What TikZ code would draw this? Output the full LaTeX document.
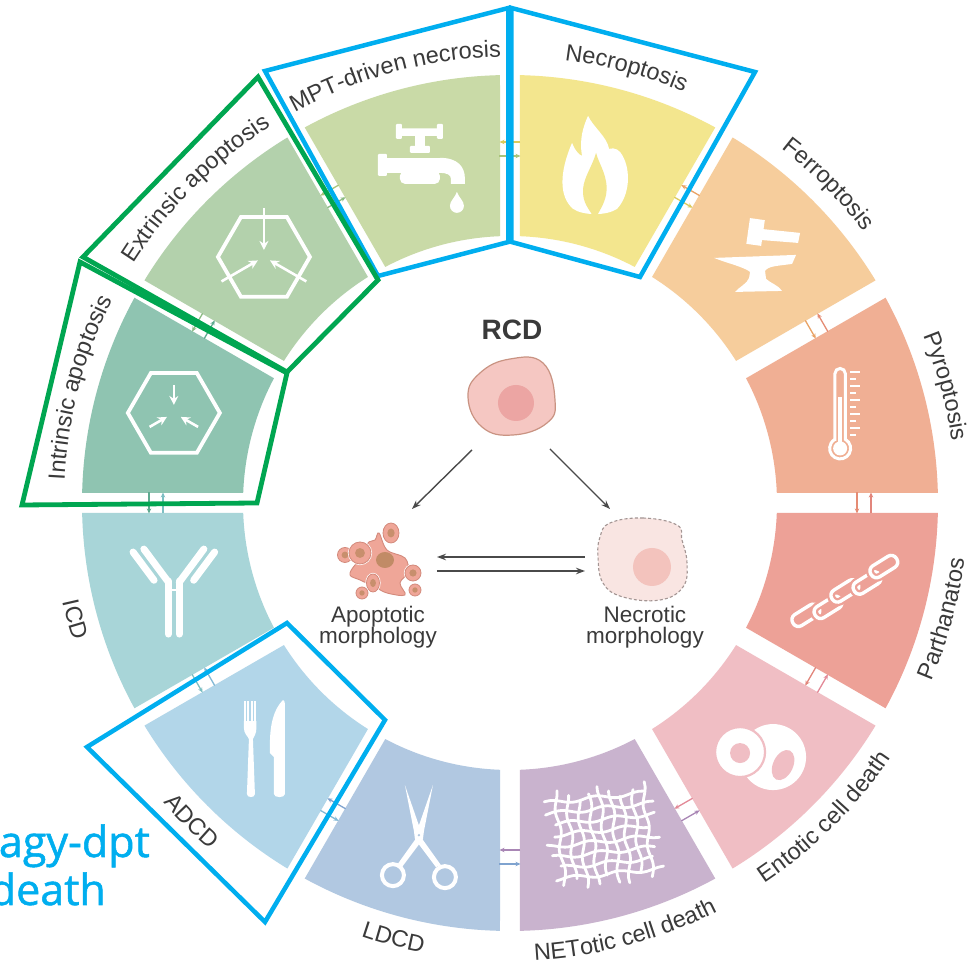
\documentclass[tikz,border=0pt]{standalone}
\usepackage{fontspec}
\setmainfont{Liberation Sans}
\newfontfamily\calloutfont{Open Sans}[FakeBold=1.2]
\usetikzlibrary{arrows.meta,decorations.text}

% sector fills
\definecolor{cNec}{HTML}{F3E68E}
\definecolor{cFer}{HTML}{F6CD9C}
\definecolor{cPyr}{HTML}{F0AF94}
\definecolor{cPar}{HTML}{EDA197}
\definecolor{cEnt}{HTML}{F0BEC4}
\definecolor{cNet}{HTML}{C9B3CE}
\definecolor{cLdc}{HTML}{B1C8E1}
\definecolor{cAdc}{HTML}{B2D6E9}
\definecolor{cIcd}{HTML}{A8D5D8}
\definecolor{cInt}{HTML}{8FC4B1}
\definecolor{cExt}{HTML}{B3D1AC}
\definecolor{cMpt}{HTML}{C9DAA7}
% deeper tones for the cross-talk arrows
\definecolor{dNec}{HTML}{DCCB5C}
\definecolor{dFer}{HTML}{E9A366}
\definecolor{dPyr}{HTML}{E58C74}
\definecolor{dPar}{HTML}{E2867C}
\definecolor{dEnt}{HTML}{E38A98}
\definecolor{dNet}{HTML}{A986B5}
\definecolor{dLdc}{HTML}{7FA3CF}
\definecolor{dAdc}{HTML}{82B9D6}
\definecolor{dIcd}{HTML}{7DBFC3}
\definecolor{dInt}{HTML}{5FAA90}
\definecolor{dExt}{HTML}{8CBB84}
\definecolor{dMpt}{HTML}{A9C47A}
% text, outlines, cells
\definecolor{labelgray}{HTML}{3A3A3A}
\definecolor{arrowgray}{HTML}{4A4A4A}
\definecolor{boxblue}{HTML}{00AEEF}
\definecolor{boxgreen}{HTML}{00A651}
\definecolor{cellpink}{HTML}{F5C7C2}
\definecolor{celledge}{HTML}{C99382}
\definecolor{nucpink}{HTML}{ECA5A3}
\definecolor{necfill}{HTML}{F9E5E2}
\definecolor{necedge}{HTML}{A39593}
\definecolor{necnuc}{HTML}{F3C3BD}
\definecolor{apofill}{HTML}{EFA698}
\definecolor{apoedge}{HTML}{D38A7C}
\definecolor{aponuc}{HTML}{C18B66}

\newcommand\labfont{\fontsize{23.5}{28}\selectfont}
% one coloured ring sector centred on angle #1 (gaps of 20 between sectors)
\newcommand\ringsector[2]{%
  \fill[#2] ({#1+13.661}:428) arc[start angle={#1+13.661}, end angle={#1-13.661}, radius=428]
    -- ({#1-12.854}:267) arc[start angle={#1-12.854}, end angle={#1+12.854}, radius=267] -- cycle;}
% curved labels: upper half reads clockwise, lower half counter-clockwise
\newcommand\ringlabelout[2]{%
  \path[decorate, decoration={text along path, text align=center, text color=labelgray,
    text={|\labfont|#2}}] ({#1+30}:446) arc[start angle={#1+30}, end angle={#1-30}, radius=446];}
\newcommand\ringlabelin[2]{%
  \path[decorate, decoration={text along path, text align=center, text color=labelgray,
    text={|\labfont|#2}}] ({#1-30}:458) arc[start angle={#1-30}, end angle={#1+30}, radius=458];}

\begin{document}
\begin{tikzpicture}[x=1pt,y=1pt,
  garrow/.style={line width=1.3,-{Stealth[length=5,width=4.4]}},
  cellarrow/.style={draw=arrowgray,line width=1.4,-{Stealth[length=9,width=6.5]}},
  bluebox/.style={draw=boxblue,line width=4.5,line join=miter},
  greenbox/.style={draw=boxgreen,line width=4.8,line join=miter},
  netline/.style={draw=white,line width=2.8,line cap=round},
  hexline/.style={draw=white,line width=3.8,line join=miter},
  hexarrow/.style={draw=white,line width=2.6,-{Stealth[length=9,width=9]}},
]
\useasboundingbox (-510,-462) rectangle (468,503);
\fill[white] (-510,-462) rectangle (468,503);

% ---------- ring of twelve sectors ----------
\foreach \ang/\col in {75/cNec,45/cFer,15/cPyr,-15/cPar,-45/cEnt,-75/cNet,-105/cLdc,-135/cAdc,-165/cIcd,165/cInt,135/cExt,105/cMpt}
  {\ringsector{\ang}{\col}}

% ---------- paired arrows across each gap ----------
\foreach \bd/\cw/\ccw in {90/dMpt/dNec,60/dNec/dFer,30/dFer/dPyr,0/dPyr/dPar,-30/dPar/dEnt,-60/dEnt/dNet,-90/dNet/dLdc,-120/dLdc/dAdc,-150/dAdc/dIcd,180/dIcd/dInt,150/dInt/dExt,120/dExt/dMpt}{
  \begin{scope}[rotate=\bd]
    \draw[garrow,draw=\cw] (347,10.5) -- (347,-10.5);
    \draw[garrow,draw=\ccw] (361,-10.5) -- (361,10.5);
  \end{scope}}

% ---------- icons ----------
% MPT-driven necrosis: tap
\begin{scope}[shift={(105:348)}]
  \fill[white, rounded corners=1.5] (-23,31) rectangle (22,38.5);
  \fill[white, rounded corners=1] (-24,28) rectangle (-18,43);
  \fill[white, rounded corners=1] (17,28) rectangle (23,43);
  \fill[white] (-5,31) rectangle (5,18);
  \fill[white, rounded corners=1] (-10,21) rectangle (10,14);
  \fill[white, rounded corners=1] (-42,13) rectangle (-33,-9);
  \fill[white] (-34,9) rectangle (22,-6);
  \fill[white] (20,9) .. controls (38,9) and (45,0) .. (45,-12) -- (45,-17) -- (31,-17) -- (31,-12)
     .. controls (31,-8) and (27,-6) .. (20,-6) -- cycle;
  \fill[white, rounded corners=5] (-20,-4) rectangle (20,-17);
  \fill[white] (37,-25) .. controls (39,-31) and (44,-34) .. (44,-39) arc[start angle=0,end angle=-180,radius=7]
     .. controls (30,-34) and (35,-31) .. (37,-25) -- cycle;
\end{scope}

% Necroptosis: flame
\begin{scope}[shift={(75:348)}, shift={(-5,2)}]
  \fill[white] (-7,49) .. controls (-2,38) and (12,28) .. (14,16)
    .. controls (20,18) and (25,14) .. (27,10)
    .. controls (36,-5) and (35,-30) .. (22,-44)
    .. controls (12,-51) and (-12,-51) .. (-22,-44)
    .. controls (-36,-32) and (-36,-8) .. (-23,22)
    .. controls (-20,14) and (-16,10) .. (-13,9)
    .. controls (-16,25) and (-12,38) .. (-7,49) -- cycle;
  \fill[cNec] (1,12) .. controls (4,0) and (14,-12) .. (11,-30)
    .. controls (9,-40) and (4,-46) .. (1,-53) -- (-1,-53)
    .. controls (-6,-44) and (-13,-38) .. (-12,-24)
    .. controls (-11,-12) and (-3,-2) .. (1,12) -- cycle;
\end{scope}

% Ferroptosis: hammer and anvil
\begin{scope}[shift={(45:348)}]
  \fill[white, rotate around={-8:(-1,25)}] (-8,12) rectangle (7,38);
  \fill[white] (5,28) -- (44,24) -- (42,14) -- (4,17) -- cycle;
  \fill[white] (-42,-1) -- (40,2) -- (36,-7) .. controls (22,-9) and (12,-9) .. (9,-14) -- (10,-22)
    .. controls (14,-26) and (22,-28) .. (26,-34) -- (-21,-35) .. controls (-17,-30) and (-9,-27) .. (-7,-21)
    -- (-6,-15) .. controls (-12,-10) and (-30,-6) .. (-42,-1) -- cycle;
\end{scope}

% Pyroptosis: thermometer
\begin{scope}[shift={(15:348)}]
  \draw[white, line width=3] (-11.2,-26.4) -- (-11.2,39.3) arc[start angle=180,end angle=0,radius=5.2]
    -- (-0.8,-26.4) arc[start angle=60.3,end angle=-240.3,radius=10.5] -- cycle;
  \draw[white, line width=4] (-6,16) -- (-6,-30);
  \fill[white] (-6,-35.5) circle[radius=7];
  \foreach \kk in {0,...,9}{
    \pgfmathsetmacro\ty{41-7*\kk}
    \pgfmathsetmacro\tx{ifthenelse(mod(\kk,2)==0,14,10)}
    \draw[white, line width=2] (4,\ty) -- (\tx,\ty);}
\end{scope}

% Parthanatos: chain
\begin{scope}[shift={(345:348)}, rotate=32]
  \foreach \kk in {0,...,4}{
    \pgfmathsetmacro\cx{-46+23*\kk}
    \pgfmathsetmacro\cy{ifthenelse(mod(\kk,2)==0,2.5,-2.5)}
    \draw[cPar, line width=8, rounded corners=6] (\cx-15,\cy-6.5) rectangle (\cx+15,\cy+6.5);
    \draw[white, line width=3.4, rounded corners=6] (\cx-15,\cy-6.5) rectangle (\cx+15,\cy+6.5);}
\end{scope}

% Entotic cell death: cell inside a cell
\begin{scope}[shift={(315:348)}]
  \fill[white] (17,-8) circle[radius=33];
  \draw[cEnt, line width=2.2, fill=white] (-16,-3) circle[radius=25];
  \fill[cEnt] (-16,-4) circle[radius=10];
  \fill[cEnt, rotate around={-25:(27,-16)}] (27,-16) ellipse[x radius=10, y radius=16];
\end{scope}

% NETotic cell death: net
\begin{scope}[shift={(285:348)}, shift={(4,3)}, rotate=6]
  \foreach \ii in {0,...,7}{
    \pgfmathsetmacro\yy{-38+11*\ii}
    \pgfmathsetmacro\xa{-52+6*sin(97*\ii)}
    \pgfmathsetmacro\xb{50+6*cos(131*\ii)}
    \draw[netline] plot[variable=\pv, domain=\xa:\xb, samples=20, smooth] (\pv,{\yy+2*sin(8*\pv+70*\ii)});}
  \foreach \ii in {0,...,8}{
    \pgfmathsetmacro\xx{-44+11*\ii}
    \pgfmathsetmacro\ya{-45+6*sin(113*\ii)}
    \pgfmathsetmacro\yb{44+6*cos(89*\ii)}
    \draw[netline] plot[variable=\pv, domain=\ya:\yb, samples=20, smooth] ({\xx+2*sin(9*\pv+50*\ii)},\pv);}
\end{scope}

% LDCD: scissors
\begin{scope}[shift={(255:348)}]
  \fill[white] (13,54) -- (-3,8) -- (-3,2) -- (-23,-26) -- (-18,-28) -- (3,0) -- (4,8) -- cycle;
  \fill[white] (-15,54) -- (1,8) -- (1,2) -- (21,-26) -- (16,-28) -- (-5,0) -- (-6,8) -- cycle;
  \draw[white, line width=4] (-27,-36) circle[radius=11] (25,-38) circle[radius=11];
  \fill[cLdc] (-1,4) circle[radius=1.3];
\end{scope}

% ADCD: fork and knife
\begin{scope}[shift={(225:348)}]
  \foreach \tn in {-19,-15.5,-12,-8.5}{\fill[white] (\tn-1,27) rectangle (\tn+1,48);}
  \fill[white] (-20,28) -- (-7.5,28) -- (-7.5,21) .. controls (-7.5,15) and (-10,13) .. (-11,10)
    -- (-9,-45) .. controls (-9,-49) and (-17,-49) .. (-17,-45) -- (-15,10)
    .. controls (-16,13) and (-20,15) .. (-20,21) -- cycle;
  \fill[white] (19,49) .. controls (10,40) and (6,25) .. (6,5) -- (6,-4) -- (10,-8) -- (10,-45)
    .. controls (10,-49) and (21,-49) .. (21,-45) -- (21,45) .. controls (21,48) and (20,49) .. (19,49) -- cycle;
\end{scope}

% ICD: antibody
\begin{scope}[shift={(195:348)}, shift={(0,3)}, line cap=round]
  \draw[white, line width=7] (-5.5,9) -- (-5.5,-44) (5.5,9) -- (5.5,-44);
  \draw[white, line width=7] (-5.5,8) -- (-30,41) (5.5,8) -- (30,41);
  \draw[white, line width=7] (-19.8,9.8) -- (-40.8,38) (19.8,9.8) -- (40.8,38);
  \draw[white, line width=2.5, line cap=butt] (-3,0) -- (3,0);
\end{scope}

% Intrinsic apoptosis: hexagon with arrows from inside
\begin{scope}[shift={(165:348)}]
  \draw[hexline] (0:46) -- (60:46) -- (120:46) -- (180:46) -- (240:46) -- (300:46) -- cycle;
  \foreach \ang in {90,210,330}{\draw[hexarrow] (\ang:28) -- (\ang:8);}
\end{scope}

% Extrinsic apoptosis: hexagon with arrows from outside
\begin{scope}[shift={(135:348)}]
  \draw[hexline] (0:46) -- (60:46) -- (120:46) -- (180:46) -- (240:46) -- (300:46) -- cycle;
  \foreach \ang in {90,210,330}{\draw[hexarrow] (\ang:49) -- (\ang:7);}
\end{scope}

% ---------- sector labels ----------
\ringlabelout{75}{Necroptosis}
\ringlabelout{45}{Ferroptosis}
\ringlabelout{15}{Pyroptosis}
\ringlabelout{105}{MPT-driven necrosis}
\ringlabelout{135}{Extrinsic apoptosis}
\ringlabelout{165}{Intrinsic apoptosis}
\ringlabelin{-15}{Parthanatos}
\ringlabelin{-45}{Entotic cell death}
\ringlabelin{-75}{NETotic cell death}
\ringlabelin{-105}{LDCD}
\ringlabelin{-135}{ADCD}
\ringlabelin{-165}{ICD}

% ---------- centre: RCD and the two morphologies ----------
\node[font=\bfseries\fontsize{28}{32}\selectfont, text=labelgray] (rcd) at (2,173) {RCD};

\draw[fill=cellpink, draw=celledge, line width=1.2] plot[smooth cycle, tension=0.75]
  coordinates {(-30,130) (0,144) (33,140) (45,103) (37,80) (3,68) (-28,76) (-42,106)};
\fill[nucpink] (6,100) circle[radius=18];

% apoptotic cell with blebs
\draw[fill=apofill, draw=apoedge, line width=0.9] plot[smooth cycle, tension=0.6]
  coordinates {(-131,-30) (-123,-47) (-105,-55) (-102,-69) (-110,-80) (-105,-92) (-123,-90) (-135,-84)
               (-150,-77) (-160,-72) (-155,-62) (-143,-52) (-142,-40) (-135,-37)};
\fill[aponuc] (-125,-57) ellipse[x radius=9, y radius=8];
\foreach \px/\py/\rx/\ry in {-119/-30/8/10, -165/-52/7.5/7.5, -150/-50/11/11, -97/-70/8/8, -95/-87/6/6, -137/-80/6.5/9, -148/-90/6/6}{
  \draw[white, line width=2.2] (\px,\py) ellipse[x radius=\rx, y radius=\ry];
  \draw[fill=apofill, draw=apoedge, line width=0.8] (\px,\py) ellipse[x radius=\rx, y radius=\ry];
  \fill[aponuc!85!apofill] (\px,\py) ellipse[x radius=0.45*\rx, y radius=0.45*\ry];}

% necrotic cell
\draw[fill=necfill, draw=necedge, line width=1.1, dash pattern=on 3 off 2.2] plot[smooth cycle, tension=0.7]
  coordinates {(100,-20) (133,-15) (167,-22) (172,-37) (177,-60) (173,-84) (150,-97) (113,-94) (93,-80) (88,-54) (90,-34)};
\fill[necnuc] (142,-64) circle[radius=19];

\node[align=center, font=\fontsize{22.5}{21.5}\selectfont, text=labelgray] (apolab) at (-132,-124) {Apoptotic\\morphology};
\node[align=center, font=\fontsize{22.5}{21.5}\selectfont, text=labelgray] (neclab) at (135,-124) {Necrotic\\morphology};

\coordinate (rcdL) at (-38,53);  \coordinate (apoT) at (-98,-6);
\coordinate (rcdR) at (40,54);   \coordinate (necT) at (100,-6);
\coordinate (necA) at (75,-54);  \coordinate (apoA) at (-73,-54);
\coordinate (apoB) at (-73,-68); \coordinate (necB) at (75,-68);
\draw[cellarrow] (rcdL) -- (apoT);
\draw[cellarrow] (rcdR) -- (necT);
\draw[cellarrow] (necA) -- (apoA);
\draw[cellarrow] (apoB) -- (necB);

% ---------- highlight outlines ----------
\draw[bluebox] (-245,432) -- (-1.5,495) -- (-1.5,261) -- (-132,227) -- cycle;
\draw[bluebox] (1.5,495) -- (245,431) -- (130,226) -- (1.5,261) -- cycle;
\draw[greenbox] (-252,426) -- (-427,246) -- (-223,131) -- (-132,223) -- cycle;
\draw[greenbox] (-430,241) -- (-488,-2) -- (-253,0) -- (-223,130) -- cycle;
\draw[bluebox] (-223,-120) -- (-423,-244) -- (-245,-419) -- (-125,-217) -- cycle;

% ---------- callout text at the left edge ----------
\node[anchor=base east, inner sep=0, text=boxblue, font=\calloutfont\fontsize{43}{50}\selectfont] (callA) at (-360,-354) {agy-dpt};
\node[anchor=base east, inner sep=0, text=boxblue, font=\calloutfont\fontsize{43}{50}\selectfont] (callB) at (-404,-402) {death};
\end{tikzpicture}
\end{document}
